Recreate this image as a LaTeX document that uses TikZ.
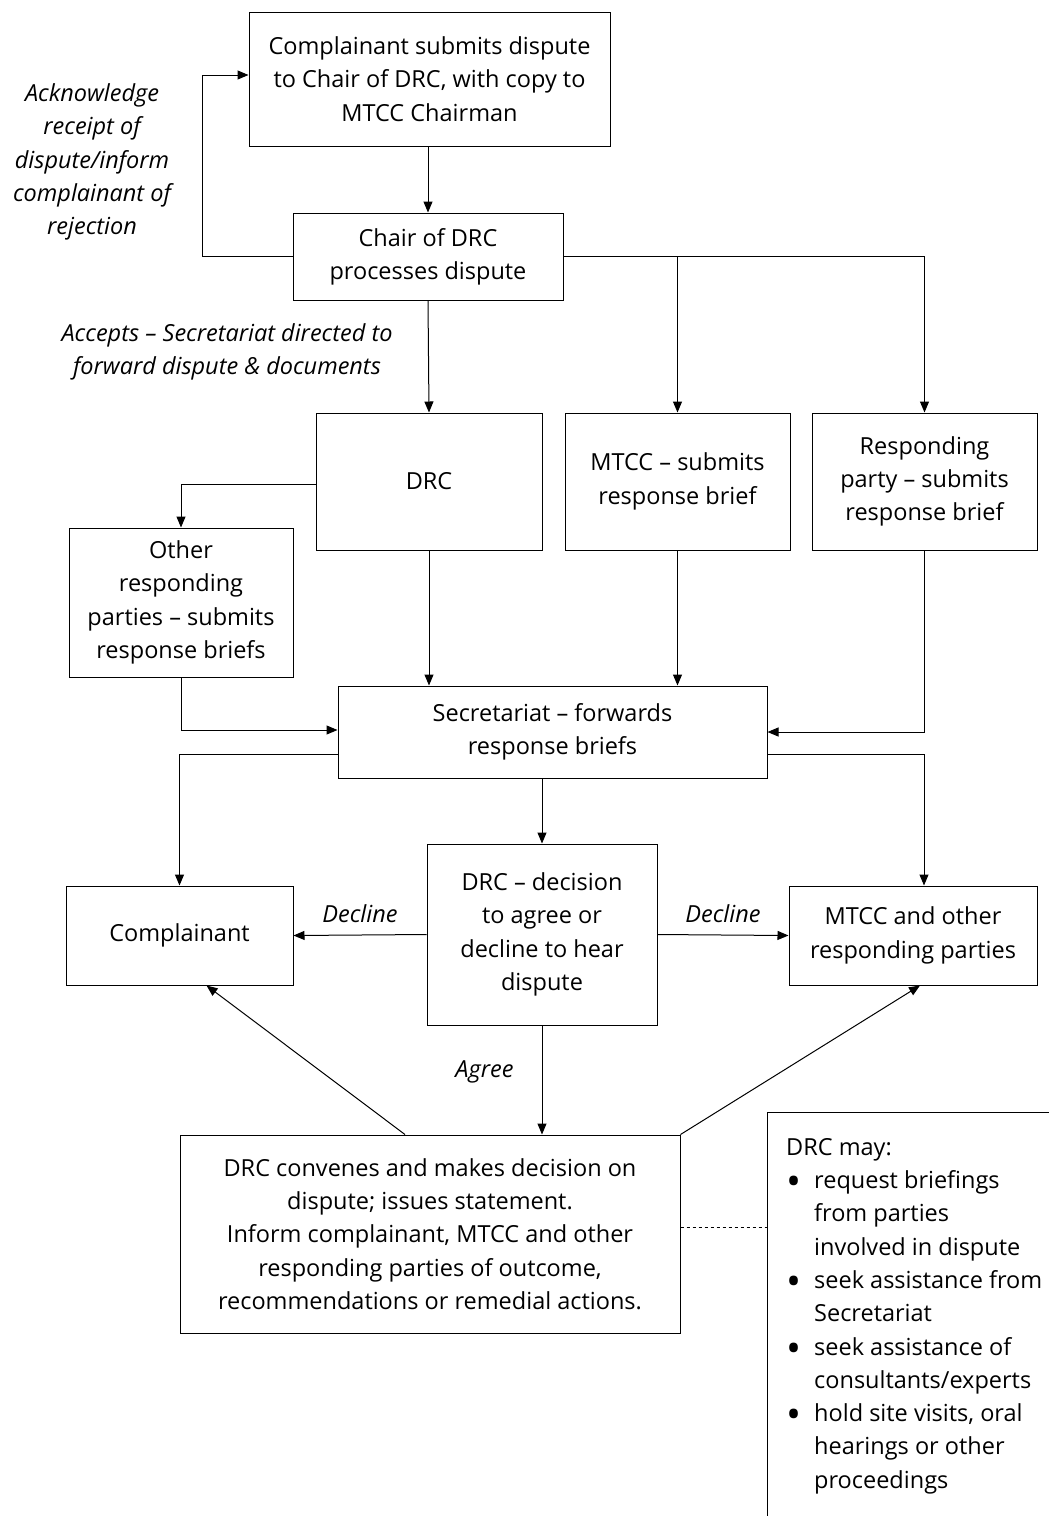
\documentclass[tikz,border=0pt]{standalone}
\usepackage{fontspec}
\setmainfont{Open Sans}
\usepackage{tikz}
\usetikzlibrary{arrows.meta,positioning}

\newcommand{\notebullet}{\makebox[28pt][l]{\raisebox{-7pt}{\scalebox{1.7}{•}}}}

\begin{document}
\begin{tikzpicture}[x=1pt,y=-1pt,
		box/.style={draw, line width=1pt, align=center, inner sep=0pt, font=\fontsize{23.5}{33.3}\selectfont},
		lbl/.style={align=center, inner sep=0pt, font=\fontsize{23.5}{33.3}\selectfont\itshape},
		arr/.style={-{Triangle[length=11pt,width=9pt]}, line width=1pt},
		plain/.style={line width=1pt}]
			\useasboundingbox (0,0) rectangle (1049,1516);
			
			\node[box, minimum width=361, minimum height=134] (submit) at (429.5,79) {Complainant submits dispute\\to Chair of DRC, with copy to\\MTCC Chairman};
			\node[box, minimum width=270, minimum height=87] (chair) at (428,256.5) {Chair of DRC\\processes dispute};
			\node[lbl] (ackn) at (92,162) {Acknowledge\\receipt of\\dispute/inform\\complainant of\\rejection};
			\node[lbl] (accepts) at (227,352) {Accepts -- Secretariat directed to\\forward dispute \& documents};
			
			\node[box, minimum width=226, minimum height=137] (drc) at (429,481.5) {DRC};
			\node[box, minimum width=225, minimum height=137] (mtcc) at (677.5,481.5) {MTCC -- submits\\response brief};
			\node[box, minimum width=225, minimum height=137] (resp) at (924.5,481.5) {Responding\\party -- submits\\response brief};
			\node[box, minimum width=224, minimum height=149] (other) at (181,602.5) {Other\\responding\\parties -- submits\\response briefs};
			\node[box, minimum width=429, minimum height=92] (secr) at (552.5,732) {Secretariat -- forwards\\response briefs};
			
			\node[box, minimum width=230, minimum height=181] (decide) at (542,934.5) {DRC -- decision\\to agree or\\decline to hear\\dispute};
			\node[box, minimum width=227, minimum height=99] (compl) at (179.5,935.5) {Complainant};
			\node[box, minimum width=248, minimum height=99] (others) at (913,935.5) {MTCC and other\\responding parties};
			\node[box, minimum width=500, minimum height=198] (outcome) at (430,1234) {DRC convenes and makes decision on\\dispute; issues statement.\\Inform complainant, MTCC and other\\responding parties of outcome,\\recommendations or remedial actions.};
			
			\coordinate (notecorner) at (767,1112);
			\node[anchor=north west, align=left, inner sep=0pt, font=\fontsize{23.5}{33.3}\selectfont] (note) at (786,1138) {DRC may:\\
				\notebullet request briefings\\
				\hspace*{28pt}from parties\\
				\hspace*{28pt}involved in dispute\\
				\notebullet seek assistance from\\
				\hspace*{28pt}Secretariat\\
				\notebullet seek assistance of\\
				\hspace*{28pt}consultants/experts\\
				\notebullet hold site visits, oral\\
				\hspace*{28pt}hearings or other\\
				\hspace*{28pt}proceedings};
			\draw[plain] (notecorner |- 0,1516) -- (notecorner) -- (1049,1112);
			
			\draw[arr] (chair.north |- submit.south) -- (chair.north);
			\draw[arr] (chair.west) -- ++(-90,0) |- ([yshift=4]submit.west);
			\draw[arr] (chair.east) -| (resp.north);
			\draw[arr] (chair.east -| mtcc.north) -- (mtcc.north);
			\draw[arr] (chair.south) -- (drc.north);
			
			\draw[arr] ([yshift=-3]drc.west) -| (other.north);
			\draw[arr] (drc.south) -- (drc.south |- secr.north);
			\draw[arr] (mtcc.south) -- (mtcc.south |- secr.north);
			\draw[arr] (other.south) |- ([yshift=2]secr.west);
			\draw[arr] (resp.south) |- (secr.east);
			
			\draw[arr] ([yshift=-22]secr.west) -| (compl.north);
			\draw[arr] ([yshift=-22]secr.east) -| ([xshift=11]others.north);
			\draw[arr] (decide.north |- secr.south) -- (decide.north);
			\draw[arr] (decide.west) -- node[above=12pt, lbl] {Decline} (compl.east);
			\draw[arr] (decide.east) -- node[above=12pt, lbl] {Decline} (others.west);
			\draw[arr] (decide.south) -- node[pos=0.43, left=28pt, lbl] {Agree} (decide.south |- outcome.north);
			
			\draw[arr] ([xshift=-25]outcome.north) -- ([xshift=27]compl.south);
			\draw[arr] (outcome.north east) -- ([xshift=7]others.south);
			\draw[plain, dashed] ([yshift=7]outcome.east) -- (notecorner |- 0,1227);
		\end{tikzpicture}
\end{document}
